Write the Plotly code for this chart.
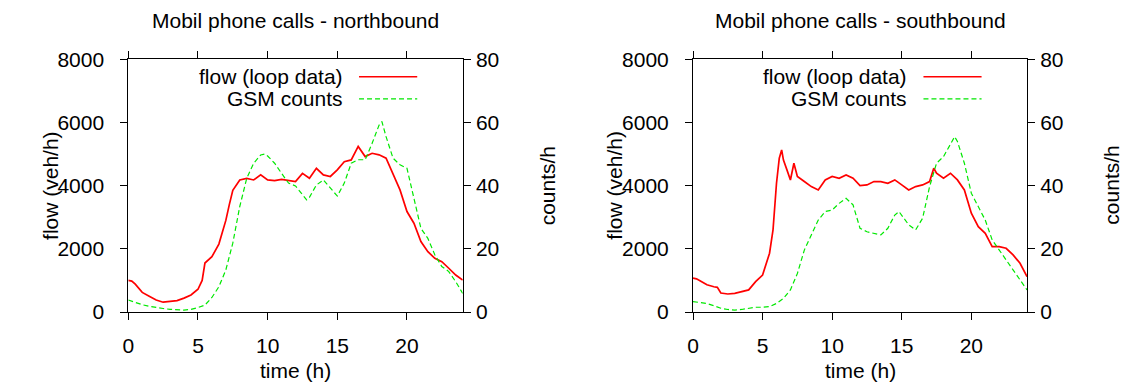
import plotly.graph_objects as go

# ---------------- data ----------------
north_flow_t = [0, 0.25, 0.5, 0.75, 1, 1.5, 2, 2.5, 3, 3.5, 4, 4.5, 5, 5.3, 5.5, 6, 6.5, 7, 7.25, 7.5,
                8, 8.5, 9, 9.5, 10, 10.5, 11, 11.5, 12, 12.5, 13, 13.5, 14, 14.5, 15, 15.5, 16, 16.5,
                17, 17.5, 18, 18.5, 19, 19.5, 20, 20.5, 21, 21.5, 22, 22.5, 23, 23.5, 24]
north_flow = [1000, 980, 880, 760, 620, 500, 380, 310, 330, 360, 440, 540, 720, 1000, 1550, 1750, 2150, 2900, 3400, 3850,
              4180, 4230, 4180, 4340, 4180, 4160, 4200, 4160, 4130, 4390, 4235, 4550, 4340, 4290, 4500, 4760, 4815, 5240,
              4920, 5025, 4975, 4870, 4390, 3865, 3180, 2810, 2230, 1910, 1700, 1595, 1385, 1170, 1010]

north_gsm_t = [0, 0.5, 1, 1.5, 2, 2.5, 3, 3.5, 4, 4.5, 5, 5.5, 6, 6.5, 7, 7.5, 8, 8.5, 9, 9.5, 9.8, 10, 10.5,
               11, 11.5, 12, 12.5, 12.8, 13, 13.5, 14, 14.5, 15, 15.5, 16, 16.5, 17, 17.5, 18, 18.2, 18.5, 19,
               19.5, 20, 20.5, 21, 21.5, 22, 22.5, 23, 23.5, 24]
north_gsm = [3.8, 3.0, 2.3, 1.8, 1.4, 1.1, 0.85, 0.7, 0.6, 0.85, 1.4, 2.2, 4.6, 8.0, 13.3, 21.8, 33.4, 42.3, 47.1, 49.7, 50.0, 49.4, 47.1,
             43.9, 40.8, 39.9, 37.1, 35.5, 36.3, 40.2, 41.8, 39.2, 36.7, 40.8, 47.1, 48.2, 48.2, 53.4, 59.2, 60.3, 55.5, 48.7,
             46.6, 45.5, 35.5, 26.5, 23.3, 18.1, 14.4, 12.8, 9.6, 5.9]

south_flow_t = [0, 0.25, 0.5, 1, 1.5, 1.75, 2, 2.5, 3, 3.5, 4, 4.5, 5, 5.5, 5.75, 6, 6.2, 6.37, 6.5, 6.75, 7, 7.25, 7.5,
                8, 8.5, 9, 9.5, 10, 10.5, 11, 11.5, 12, 12.5, 13, 13.5, 14, 14.5, 15, 15.5, 16, 16.5, 17, 17.3, 17.5,
                18, 18.5, 19, 19.5, 20, 20.5, 21, 21.5, 22, 22.5, 23, 23.5, 24]
south_flow = [1070, 1050, 990, 860, 800, 780, 600, 570, 590, 640, 700, 960, 1170, 1860, 2600, 4076, 4870, 5130, 4810, 4500, 4180, 4710, 4290,
              4130, 3970, 3865, 4180, 4290, 4235, 4340, 4235, 4000, 4023, 4129, 4129, 4076, 4182, 4023, 3865, 3970, 4023, 4129, 4551, 4393,
              4235, 4393, 4182, 3865, 3126, 2703, 2492, 2070, 2070, 2017, 1806, 1542, 1119]

south_gsm_t = [0, 0.5, 1, 1.5, 2, 2.5, 3, 3.5, 4, 4.5, 5, 5.5, 6, 6.5, 7, 7.5, 8, 8.5, 9, 9.5, 10, 10.5, 11, 11.5,
               12, 12.5, 13, 13.5, 14, 14.5, 14.8, 15, 15.5, 16, 16.5, 17, 17.5, 18, 18.5, 18.8, 19, 19.5, 20, 20.5,
               21, 21.5, 22, 22.5, 23, 23.5, 24]
south_gsm = [3.3, 3.0, 2.7, 2.0, 1.2, 0.8, 0.6, 0.8, 1.2, 1.5, 1.5, 1.7, 2.7, 4.3, 7.0, 12.2, 19.6, 24.4, 29.1, 31.8, 32.3, 34.4, 36.0, 33.9,
             26.5, 25.4, 24.9, 24.4, 26.5, 30.7, 31.8, 30.7, 27.6, 26.0, 29.7, 39.7, 47.1, 49.2, 52.9, 55.5, 54.0, 47.1, 37.6, 33.4,
             29.1, 22.8, 19.6, 16.5, 13.3, 10.1, 7.0]

titles = ["Mobil phone calls - northbound", "Mobil phone calls - southbound"]
legend_names = ["flow (loop data)", "GSM counts"]
x_ticks = [0, 5, 10, 15, 20]
flow_ticks = [0, 2000, 4000, 6000, 8000]
count_ticks = [0, 20, 40, 60, 80]

# ---------------- styling ----------------
FONT = "Liberation Sans, Arial, sans-serif"
FS = 21
RED = "#ff0000"
GREEN = "#00e800"
W, H = 1122, 388
xdoms = [[128.3 / W, 462.7 / W], [693.0 / W, 1027.0 / W]]
ydom = [1 - 312.0 / H, 1 - 59.3 / H]

fig = go.Figure()

panels = [(north_flow_t, north_flow, north_gsm_t, north_gsm), (south_flow_t, south_flow, south_gsm_t, south_gsm)]
for i, (ft, fv, gt, gv) in enumerate(panels):
    xa = "x" if i == 0 else "x2"
    ya_l = "y" if i == 0 else "y3"
    ya_r = "y2" if i == 0 else "y4"
    fig.add_trace(go.Scatter(x=ft, y=fv, xaxis=xa, yaxis=ya_l, mode="lines",
                             line=dict(color=RED, width=1.7), name=legend_names[0], showlegend=False))
    fig.add_trace(go.Scatter(x=gt, y=gv, xaxis=xa, yaxis=ya_r, mode="lines",
                             line=dict(color=GREEN, width=1.2, dash="5px,3px"), name=legend_names[1], showlegend=False))

axis_common = dict(showgrid=False, zeroline=False, showline=True, linecolor="black", linewidth=1,
                   ticks="outside", ticklen=7, tickwidth=1, tickcolor="black", automargin=False,
                   tickfont=dict(family=FONT, size=FS, color="black"))

layout = dict(width=W, height=H, margin=dict(l=0, r=0, t=0, b=0, pad=0), autosize=False,
              paper_bgcolor="white", plot_bgcolor="white", showlegend=False)

for i in range(2):
    xk = "xaxis" if i == 0 else "xaxis2"
    ylk = "yaxis" if i == 0 else "yaxis3"
    yrk = "yaxis2" if i == 0 else "yaxis4"
    yl_anchor = "y" if i == 0 else "y3"
    x_anchor = "x" if i == 0 else "x2"
    layout[xk] = dict(axis_common, domain=xdoms[i], anchor=yl_anchor, range=[0, 24],
                      tickvals=x_ticks, mirror="ticks", ticklabelstandoff=8)
    layout[ylk] = dict(axis_common, domain=ydom, anchor=x_anchor, range=[0, 8000],
                       tickvals=flow_ticks, ticklabelstandoff=12)
    layout[yrk] = dict(axis_common, domain=ydom, anchor=x_anchor, range=[0, 80],
                       tickvals=count_ticks, side="right", overlaying=yl_anchor, ticklabelstandoff=1)

fig.update_layout(**layout)

annotations = []
shapes = []
for i in range(2):
    x0, x1 = xdoms[i]
    cx = (x0 + x1) / 2
    wd = x1 - x0
    annotations.append(dict(text=titles[i], x=cx, y=1 - 20 / H, xref="paper", yref="paper",
                            showarrow=False, xanchor="center", yanchor="middle",
                            font=dict(family=FONT, size=FS, color="black")))
    annotations.append(dict(text="time (h)", x=cx, y=1 - 370 / H, xref="paper", yref="paper",
                            showarrow=False, xanchor="center", yanchor="middle",
                            font=dict(family=FONT, size=FS, color="black")))
    annotations.append(dict(text="flow (veh/h)", x=x0 - 78 / W, y=(ydom[0] + ydom[1]) / 2, xref="paper", yref="paper",
                            showarrow=False, xanchor="center", yanchor="middle", textangle=-90,
                            font=dict(family=FONT, size=FS, color="black")))
    annotations.append(dict(text="counts/h", x=x1 + 85 / W, y=(ydom[0] + ydom[1]) / 2, xref="paper", yref="paper",
                            showarrow=False, xanchor="center", yanchor="middle", textangle=-90,
                            font=dict(family=FONT, size=FS, color="black")))
    # legend inside plot, text right-aligned, sample on the right
    rows = [(0.931, dict(color=RED, width=1.5)), (0.843, dict(color=GREEN, width=1.2, dash="5px,3px"))]
    for j, (ry, ln) in enumerate(rows):
        yy = ydom[0] + ry * (ydom[1] - ydom[0])
        annotations.append(dict(text=legend_names[j], x=x0 + 0.648 * wd, y=yy, xref="paper", yref="paper",
                                showarrow=False, xanchor="right", yanchor="middle",
                                font=dict(family=FONT, size=FS, color="black")))
        shapes.append(dict(type="line", xref="paper", yref="paper",
                           x0=x0 + 0.690 * wd, x1=x0 + 0.864 * wd, y0=yy, y1=yy, line=ln))

fig.update_layout(annotations=annotations, shapes=shapes)
fig.write_html("out.html")
